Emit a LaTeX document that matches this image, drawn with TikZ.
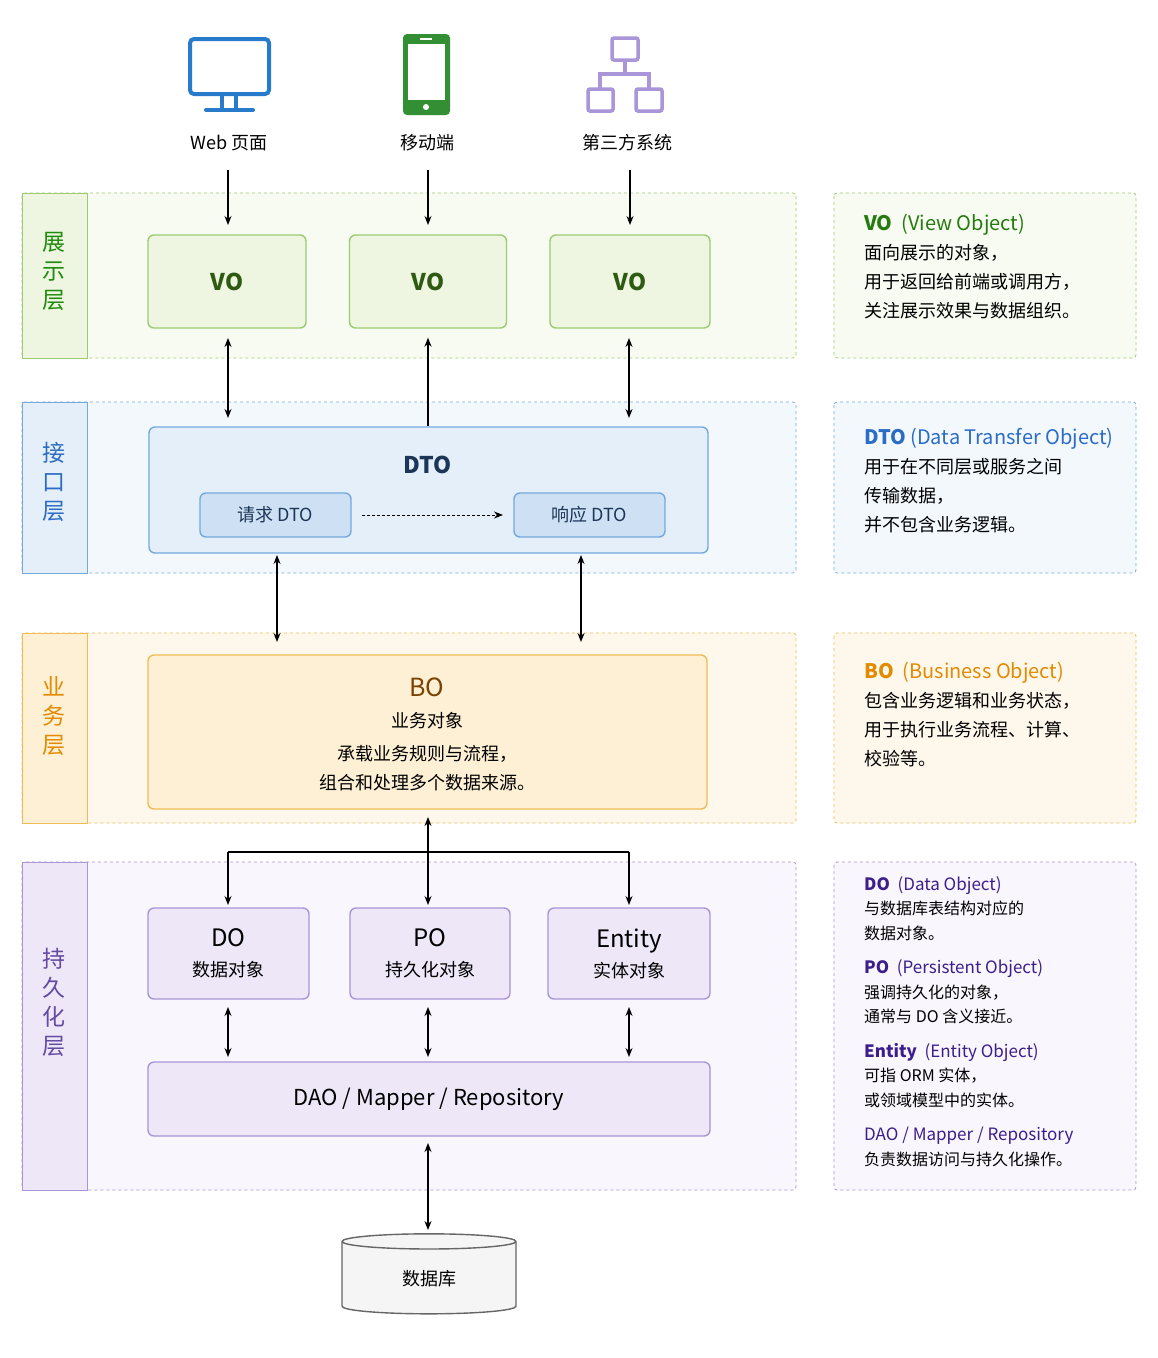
\documentclass[tikz,border=0pt]{standalone}
\usepackage{fontspec}
\setmainfont{Noto Sans CJK SC}
\usetikzlibrary{arrows.meta,shapes.geometric}
\definecolor{gLine}{HTML}{9CCB72}\definecolor{gFill}{HTML}{EEF6E2}\definecolor{gText}{HTML}{2F5A12}
\definecolor{bLine}{HTML}{74A9DE}\definecolor{bFill}{HTML}{E5EFFA}\definecolor{bText}{HTML}{1D3557}
\definecolor{oLine}{HTML}{F1BC55}\definecolor{oFill}{HTML}{FDF0D5}\definecolor{oText}{HTML}{7A4300}\definecolor{oHead}{HTML}{E28A00}
\definecolor{pLine}{HTML}{A995D8}\definecolor{pFill}{HTML}{EEE7F8}\definecolor{pText}{HTML}{3C1D8C}
\definecolor{dLine}{HTML}{2B6CC4}
\tikzset{
  band/.style={draw=#1, dashed, line width=0.8pt, rounded corners=3pt},
  box/.style={draw=#1, line width=1.4pt, rounded corners=6pt, align=center},
  strip/.style={line width=0.8pt, align=center, font=\fontsize{23}{29}\selectfont},
  note/.style={anchor=north west, align=left, inner sep=0pt, font=\fontsize{18}{29}\selectfont},
  flow/.style={-{Stealth[length=9pt,width=7pt]}, line width=1.2pt},
  both/.style={{Stealth[length=9pt,width=7pt]}-{Stealth[length=9pt,width=7pt]}, line width=1.2pt},
}
\begin{document}
\begin{tikzpicture}[x=1pt,y=-1pt]
\useasboundingbox[fill=white] (0,0) rectangle (1158,1358);
% layer bands
\foreach \ya/\yb/\c/\f in {193/358/gLine/gFill!45, 402/573/bLine/bFill!45, 633/823/oLine/oFill!45, 862/1190/pLine/pFill!35}{
  \draw[band=\c, fill=\f] (22,\ya) rectangle (796,\yb);
  \draw[band=\c, fill=\f] (834,\ya) rectangle (1136,\yb);
}
\fill[gFill, draw=gLine] (22,193) rectangle (87,358);
\fill[bFill, draw=bLine] (22,402) rectangle (87,573);
\fill[oFill, draw=oLine] (22,633) rectangle (87,823);
\fill[pFill, draw=pLine] (22,862) rectangle (87,1190);
\node[strip, text=gText!70!green] (l1) at (54,271) {展\\示\\层};
\node[strip, text=dLine] (l2) at (54,482) {接\\口\\层};
\node[strip, text=oHead] (l3) at (54,716) {业\\务\\层};
\node[strip, text=pText!80] (l4) at (54,1002) {持\\久\\化\\层};
% icons
\draw[dLine!90!cyan, line width=4pt, rounded corners=4pt] (190,39) rectangle (269,94);
\draw[dLine!90!cyan, line width=4pt] (222,96) -- (222,109) (236,96) -- (236,109);
\draw[dLine!90!cyan, line width=4pt, line cap=round] (206,110) -- (253,110);
\fill[green!45!black!80!white, rounded corners=4pt] (403,34) rectangle (450,115);
\fill[white] (408,44) rectangle (445,100);
\fill[white] (426,107) circle (3);
\draw[white, line width=1.2pt] (420,39) -- (432,39);
\begin{scope}[draw=pLine, line width=3.5pt, rounded corners=2pt]
  \draw (612,38) rectangle (638,60);
  \draw (588,89) rectangle (613,111);
  \draw (636,89) rectangle (662,111);
  \draw[rounded corners=0pt] (625,60) -- (625,74) (600,89) -- (600,74) -- (649,74) -- (649,89);
\end{scope}
\node (web) at (229,143) {\fontsize{18}{20}\selectfont Web 页面};
\node (mob) at (427,143) {\fontsize{18}{20}\selectfont 移动端};
\node (third) at (627,143) {\fontsize{18}{20}\selectfont 第三方系统};
% presentation
\foreach \n/\x/\w in {vo1/227/158, vo2/428/157, vo3/630/160}
  \node[box=gLine, fill=gFill, text=gText, minimum width=\w, minimum height=93, font=\fontsize{23}{26}\selectfont\bfseries] (\n) at (\x,281.5) {VO};
\draw[flow] (228,170) coordinate (w0) -- (228,225) coordinate (w1);
\draw[flow] (428,170) coordinate (m0) -- (428,225) coordinate (m1);
\draw[flow] (630,170) coordinate (t0) -- (630,225) coordinate (t1);
% interface
\node[box=bLine, fill=bFill, minimum width=559, minimum height=126] (dto) at (428.5,490) {};
\node[text=bText, font=\fontsize{23}{26}\selectfont\bfseries] (dtoT) at (428,465) {DTO};
\node[box=bLine, fill=bFill!80!bLine, text=bText, minimum width=151, minimum height=44, font=\fontsize{18}{20}\selectfont] (req) at (275.5,515) {请求 DTO};
\node[box=bLine, fill=bFill!80!bLine, text=bText, minimum width=151, minimum height=44, font=\fontsize{18}{20}\selectfont] (resp) at (589.5,515) {响应 DTO};
\draw[flow, densely dashed, line width=0.9pt] (362,515) coordinate (q0) -- (503,515) coordinate (q1);
\draw[both] (228,338) coordinate (a0) -- (228,418) coordinate (a1);
\draw[flow] (dto.north -| vo2.south) -- ([yshift=-9pt]vo2.south);
\draw[both] (629,338) coordinate (b0) -- (629,418) coordinate (b1);
% business
\node[box=oLine, fill=oFill, minimum width=559, minimum height=154] (bo) at (427.5,732) {};
\node[text=oText, font=\fontsize{25}{28}\selectfont] (boT) at (427,687) {BO};
\node[align=center, font=\fontsize{18}{29}\selectfont] (boD) at (427,752) {业务对象\\[4pt]承载业务规则与流程，\\组合和处理多个数据来源。};
\draw[both] (277,555) coordinate (c0) -- (277,642) coordinate (c1);
\draw[both] (581,555) coordinate (d0) -- (581,642) coordinate (d1);
% persistence
\node[box=pLine, fill=pFill, text=black, minimum width=161, minimum height=91, font=\fontsize{18}{30}\selectfont] (do) at (228.5,953.5) {\fontsize{24}{28}\selectfont DO\\数据对象};
\node[box=pLine, fill=pFill, text=black, minimum width=160, minimum height=91, font=\fontsize{18}{30}\selectfont] (po) at (430,953.5) {\fontsize{24}{28}\selectfont PO\\持久化对象};
\node[box=pLine, fill=pFill, text=black, minimum width=162, minimum height=91, font=\fontsize{18}{30}\selectfont] (ent) at (629,953.5) {\fontsize{24}{28}\selectfont Entity\\实体对象};
\node[box=pLine, fill=pFill, minimum width=562, minimum height=74, font=\fontsize{22}{24}\selectfont] (dao) at (429,1099) {DAO / Mapper / Repository};
\draw[both] (428,817) coordinate (e0) -- (428,905) coordinate (e1);
\draw[line width=1.2pt] (228,852) coordinate (h0) -- (629,852) coordinate (h1);
\draw[flow] (h0) -- (228,905);
\draw[flow] (h1) -- (629,905);
\foreach \x in {228,428,629}
  \draw[both] (\x,1007) -- (\x,1057);
% database
\node[cylinder, shape border rotate=90, aspect=0.25, draw=gray!80!black, line width=1.4pt, fill=gray!8, minimum width=174, minimum height=80, font=\fontsize{18}{20}\selectfont] (db) at (429,1279) {数据库};
\draw[both] (428,1143) coordinate (f0) -- (428,1230) coordinate (f1);
% side notes
\node[note] (n1) at (864,214) {{\color{gText!80!green}\fontsize{20}{24}\selectfont\textbf{VO}\ \ (View Object)}\\面向展示的对象，\\用于返回给前端或调用方，\\关注展示效果与数据组织。};
\node[note] (n2) at (864,428) {{\color{dLine}\fontsize{20}{24}\selectfont\textbf{DTO}\ (Data Transfer Object)}\\用于在不同层或服务之间\\传输数据，\\并不包含业务逻辑。};
\node[note] (n3) at (864,662) {{\color{oHead}\fontsize{20}{24}\selectfont\textbf{BO}\ \ (Business Object)}\\包含业务逻辑和业务状态，\\用于执行业务流程、计算、\\校验等。};
\node[note, font=\fontsize{16}{24.5}\selectfont] (n4) at (864,876) {{\color{pText}\fontsize{17}{20}\selectfont\textbf{DO}\ \ (Data Object)}\\与数据库表结构对应的\\数据对象。\\[10pt]
{\color{pText}\fontsize{17}{20}\selectfont\textbf{PO}\ \ (Persistent Object)}\\强调持久化的对象，\\通常与 DO 含义接近。\\[10pt]
{\color{pText}\fontsize{17}{20}\selectfont\textbf{Entity}\ \ (Entity Object)}\\可指 ORM 实体，\\或领域模型中的实体。\\[10pt]
{\color{pText}\fontsize{17}{20}\selectfont DAO / Mapper / Repository}\\负责数据访问与持久化操作。};
\end{tikzpicture}
\end{document}
